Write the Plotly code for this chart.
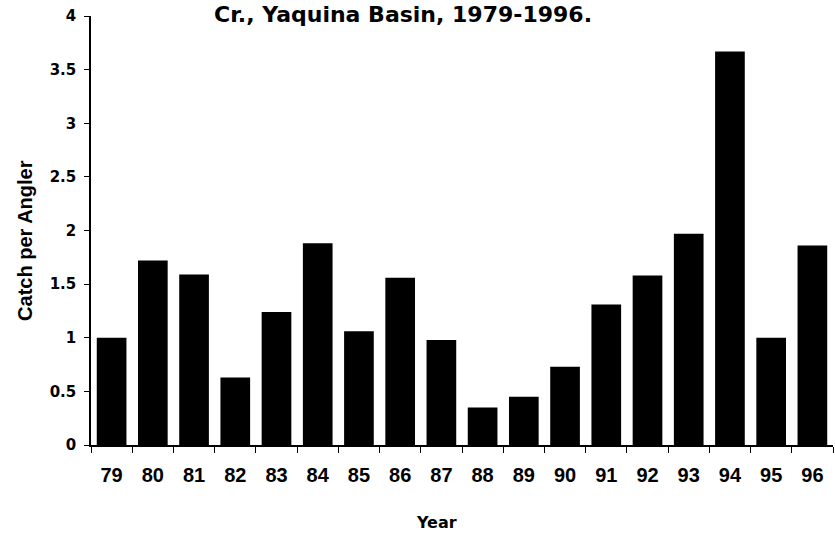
import plotly.graph_objects as go

# catch per angler by year
years = ["79", "80", "81", "82", "83", "84", "85", "86", "87",
         "88", "89", "90", "91", "92", "93", "94", "95", "96"]
catch = [1.0, 1.72, 1.59, 0.63, 1.24, 1.88, 1.06, 1.56, 0.98,
         0.35, 0.45, 0.73, 1.31, 1.58, 1.97, 3.67, 1.0, 1.86]

y_ticks = [0, 0.5, 1, 1.5, 2, 2.5, 3, 3.5, 4]

arial = "Liberation Sans, Arial, sans-serif"
wide = "DejaVu Sans, sans-serif"

fig = go.Figure(go.Bar(
    x=years,
    y=catch,
    marker=dict(color="black", line=dict(width=0)),
    width=0.72,
))

fig.update_layout(
    width=835, height=533,
    margin=dict(l=91, r=2, t=16, b=88),
    plot_bgcolor="white",
    paper_bgcolor="white",
    showlegend=False,
    font=dict(family=arial, color="black"),
)

fig.update_xaxes(
    type="category",
    showline=True, linecolor="black", linewidth=1.5,
    ticks="outside", tickson="boundaries", ticklen=6, tickcolor="black",
    tickfont=dict(size=20, family=arial, weight="bold"),
    ticklabelstandoff=11,
    showgrid=False,
)

fig.update_yaxes(
    range=[0, 4],
    tickvals=y_ticks,
    showline=True, linecolor="black", linewidth=1.5,
    ticks="outside", ticklen=5, tickcolor="black",
    tickfont=dict(size=15, family=wide, weight="bold"),
    ticklabelstandoff=5,
    showgrid=False, zeroline=False,
)

# title (only its last line shows in the source), axis titles
fig.add_annotation(text="<b>Cr., Yaquina Basin, 1979-1996.</b>",
                   xref="paper", yref="paper", x=0.42, y=1.004,
                   xanchor="center", yanchor="middle", showarrow=False,
                   font=dict(size=22, family=wide))
fig.add_annotation(text="<b>Catch per Angler</b>",
                   xref="paper", yref="paper", x=-0.089, y=0.478,
                   xanchor="center", yanchor="middle", textangle=-90,
                   showarrow=False, font=dict(size=20, family=arial))
fig.add_annotation(text="<b>Year</b>",
                   xref="paper", yref="paper", x=0.465, y=-0.18,
                   xanchor="center", yanchor="middle",
                   showarrow=False, font=dict(size=16, family=wide))

fig.write_html("out.html", config={"displayModeBar": False},
               post_script="document.body.style.margin='0';")
